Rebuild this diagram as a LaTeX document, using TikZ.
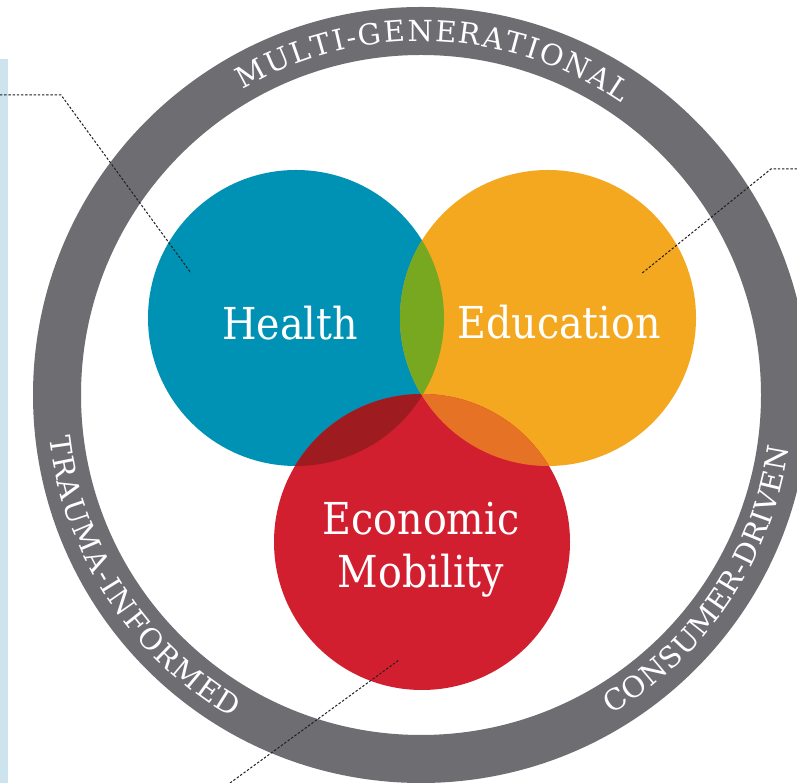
\documentclass[tikz,border=0pt]{standalone}
\usepackage{fontspec}
\usetikzlibrary{decorations.text}
\newfontfamily\slab[FakeStretch=0.9]{DejaVu Serif}
\newfontfamily\ringfont{DejaVu Serif}
\definecolor{hblue}{RGB}{0,146,180}
\definecolor{eorange}{RGB}{244,168,31}
\definecolor{mred}{RGB}{210,31,48}
\definecolor{hegreen}{RGB}{119,168,31}
\definecolor{hmred}{RGB}{158,27,32}
\definecolor{emorange}{RGB}{230,114,38}
\definecolor{ringgrey}{RGB}{110,109,114}
\definecolor{barblue}{RGB}{205,227,237}
\definecolor{leadergrey}{RGB}{30,30,30}
\tikzset{
  label/.style={text=white, font=\slab\fontsize{44}{53}\selectfont, align=center, inner sep=0pt},
  leader/.style={draw=leadergrey, line width=1pt, dash pattern=on 2.4pt off 1.8pt},
  ringtext/.style={decorate, decoration={text along path, text color=white, text align={fit to path}}}
}
\begin{document}
\begin{tikzpicture}[x=1pt,y=1pt]
\useasboundingbox (0,0) rectangle (797,783);
\clip (0,0) rectangle (797,783);
\fill[white] (0,0) rectangle (797,783);
% light blue side bar
\fill[barblue] (0,0) rectangle (8,724);
% ring
\coordinate (c) at (421,388);
\fill[ringgrey, even odd rule] (c) circle (388) (c) circle (340);
% ring texts
\path[ringtext, decoration={text={|\ringfont\fontsize{29}{29}\selectfont|MULTI-GENERATIONAL}}]
  (c) ++(120.3:354) arc[start angle=120.3, end angle=55.5, radius=354];
\path[ringtext, decoration={text={|\ringfont\fontsize{29}{29}\selectfont|TRAUMA-INFORMED}}]
  (c) ++(186.5:374) arc[start angle=186.5, end angle=239.7, radius=374];
\path[ringtext, decoration={text={|\ringfont\fontsize{29}{29}\selectfont|CONSUMER-DRIVEN}}]
  (c) ++(-59.2:372) arc[start angle=-59.2, end angle=-8.2, radius=372];
% circles
\coordinate (H) at (296,465);
\coordinate (E) at (548,465);
\coordinate (M) at (422,241);
\fill[hblue] (H) circle (148);
\fill[eorange] (E) circle (148);
\fill[mred] (M) circle (148);
\begin{scope}\clip (H) circle (148); \fill[hegreen] (E) circle (148);\end{scope}
\begin{scope}\clip (H) circle (148); \fill[hmred] (M) circle (148);\end{scope}
\begin{scope}\clip (E) circle (148); \fill[emorange] (M) circle (148);\end{scope}
% labels
\node[label, anchor=base] (health) at (290,443) {Health};
\node[label, anchor=base] (education) at (559,444) {Education};
\node[label, anchor=center] (econ) at (421,233) {Economic\\Mobility};
% leader lines
\coordinate (l1a) at (0,688);
\coordinate (l1b) at (61,688);
\coordinate (l1c) at (191,510);
\coordinate (l2a) at (797,614);
\coordinate (l2b) at (771,614);
\coordinate (l2c) at (641,509);
\coordinate (l3a) at (230,0);
\coordinate (l3b) at (399,123);
\draw[leader] (l1a) -- (l1b) -- (l1c);
\draw[leader] (l2a) -- (l2b) -- (l2c);
\draw[leader] (l3a) -- (l3b);
\end{tikzpicture}
\end{document}
